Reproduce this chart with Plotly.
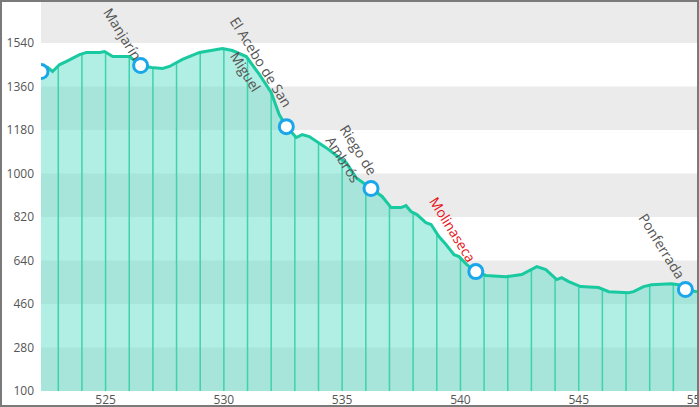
import numpy as np
import plotly.graph_objects as go

# Elevation profile (km, metres)
km = [522.27, 522.55, 522.76, 523.06, 523.35, 523.90, 524.20, 524.75, 524.96, 525.30,
      526.01, 526.48, 526.94, 527.41, 527.70, 528.25, 528.97, 529.94, 530.36, 530.95,
      531.50, 532.00, 532.34, 532.64, 533.06, 533.31, 533.61, 534.32, 534.87, 535.17,
      535.59, 536.01, 536.22, 536.69, 537.07, 537.49, 537.70, 537.91, 538.16, 538.54,
      538.76, 539.09, 539.39, 539.73, 539.94, 540.27, 540.65, 541.08, 541.92, 542.59,
      543.23, 543.61, 544.07, 544.28, 544.58, 545.08, 545.84, 546.27, 547.11, 547.32,
      547.74, 548.08, 548.92, 549.22, 549.51, 550.0]
elev = [1422, 1439, 1422, 1451, 1464, 1492, 1501, 1501, 1505, 1484,
        1484, 1447, 1439, 1435, 1443, 1472, 1501, 1517, 1509, 1484,
        1410, 1335, 1244, 1194, 1149, 1161, 1153, 1107, 1066, 1045,
        983, 954, 938, 905, 859, 859, 867, 843, 830, 797,
        789, 739, 706, 664, 656, 623, 594, 578, 573, 582,
        615, 602, 561, 569, 553, 532, 528, 511, 507, 511,
        532, 540, 544, 540, 520, 511]

# Towns
town_km = [522.27, 526.48, 532.64, 536.22, 540.65, 549.51]
town_elev = [1422, 1447, 1194, 938, 594, 520]
town_names = ["", "Manjarín", "El Acebo de San<br>Miguel", "Riego de<br>Ambrós", "Molinaseca", "Ponferrada"]
town_colors = ["#555555", "#555555", "#555555", "#555555", "#e8141c", "#555555"]
label_dx = [0, -18, -33, -20, -23, -23]
label_dy = [0, -32, -60, -34, -42, -43]

# Axes
x_range = [522.27, 550.0]
y_range = [100, 1718]
x_ticks = [525, 530, 535, 540, 545, 550]
y_ticks = [100, 280, 460, 640, 820, 1000, 1180, 1360, 1540]
grid_km = list(range(523, 550))

fig = go.Figure()

# Filled area
fig.add_trace(go.Scatter(x=km, y=elev, mode="lines", line=dict(width=0, color="rgba(0,0,0,0)"),
                         fill="tozeroy", fillcolor="rgba(100,222,200,0.5)", hoverinfo="skip",
                         showlegend=False))

# Drop lines at each km
gx, gy = [], []
for k in grid_km:
    h = float(np.interp(k, km, elev))
    gx += [k, k, None]
    gy += [y_range[0], h, None]
fig.add_trace(go.Scatter(x=gx, y=gy, mode="lines", line=dict(color="#3dd3ae", width=1.5),
                         hoverinfo="skip", showlegend=False))

# Profile line
fig.add_trace(go.Scatter(x=km, y=elev, mode="lines", line=dict(color="#19c9a0", width=3),
                         showlegend=False))

# Town markers
fig.add_trace(go.Scatter(x=town_km, y=town_elev, mode="markers",
                         marker=dict(size=14, color="white", line=dict(color="#1aa6ea", width=3)),
                         showlegend=False))

for xk, yv, name, col, dx, dy in zip(town_km, town_elev, town_names, town_colors, label_dx, label_dy):
    if not name:
        continue
    fig.add_annotation(x=xk, y=yv, text=name, showarrow=True, arrowcolor="rgba(0,0,0,0)",
                       arrowwidth=0.1, ax=dx, ay=dy, textangle=58,
                       font=dict(family="Open Sans", size=14, color=col))

# Background bands
shapes = []
band_starts = y_ticks[0::2]
for b in band_starts:
    top = min(b + 180, y_range[1])
    shapes.append(dict(type="rect", xref="paper", yref="y", x0=0, x1=1, y0=b, y1=top,
                       fillcolor="#ebebeb", line=dict(width=0), layer="below"))

W, H = 699, 407
ml, mr, mt, mb = 41, 2, 0, 16
pw, ph = W - ml - mr, H - mt - mb
shapes.append(dict(type="rect", xref="paper", yref="paper",
                   x0=(1 - ml) / pw, x1=(W - 1 - ml) / pw,
                   y0=(ph - (H - 1 - mt)) / ph, y1=(ph - (1 - mt)) / ph,
                   line=dict(color="#7a7a7a", width=2), fillcolor="rgba(0,0,0,0)", layer="above"))

fig.update_layout(
    width=W, height=H,
    margin=dict(l=ml, r=mr, t=mt, b=mb, autoexpand=False),
    paper_bgcolor="white", plot_bgcolor="white",
    shapes=shapes,
    font=dict(family="Open Sans", size=12, color="#555555"),
    xaxis=dict(range=x_range, tickvals=x_ticks, ticktext=[str(v) for v in x_ticks],
               showgrid=False, zeroline=False, showline=False, ticks="", automargin=False,
               ticklabeloverflow="allow", tickfont=dict(size=12, color="#555555")),
    yaxis=dict(range=y_range, tickvals=y_ticks, ticktext=[str(v) for v in y_ticks],
               showgrid=False, zeroline=False, showline=False, ticks="", automargin=False,
               ticklabelstandoff=6, tickfont=dict(size=12, color="#555555")),
)

fig.write_html("out.html")
